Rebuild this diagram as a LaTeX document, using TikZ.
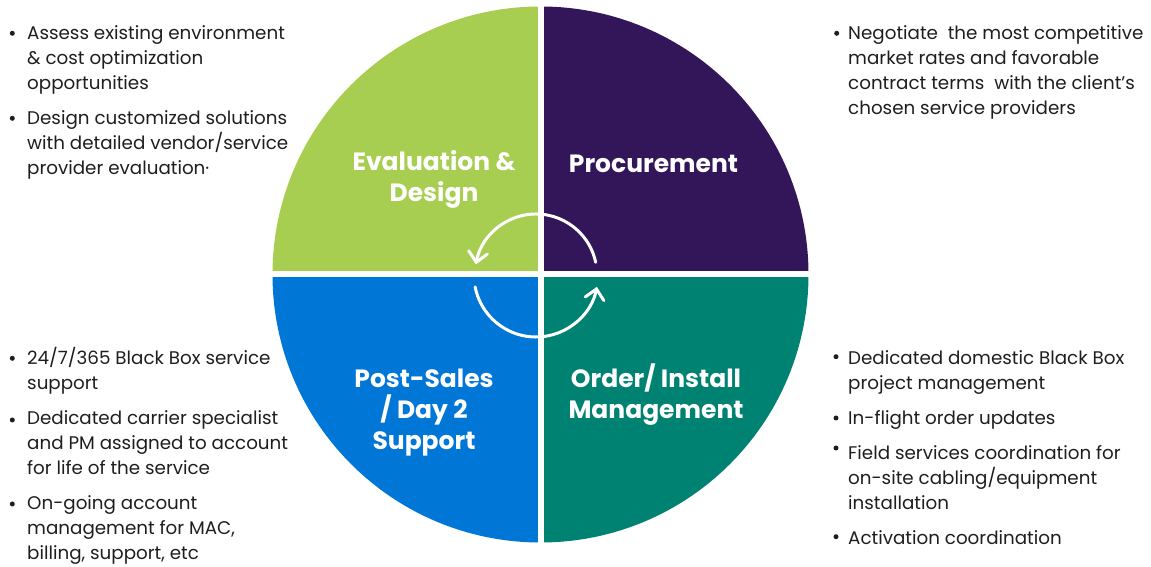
\documentclass[tikz,border=0pt]{standalone}
\usepackage{fontspec}
\setmainfont{Poppins}
\usetikzlibrary{arrows.meta}
\definecolor{qgreen}{RGB}{167,206,81}
\definecolor{qpurple}{RGB}{51,22,89}
\definecolor{qblue}{RGB}{0,118,215}
\definecolor{qteal}{RGB}{0,130,114}
\definecolor{txt}{RGB}{30,30,30}
\begin{document}
\begin{tikzpicture}[x=1pt,y=1pt,
  body/.style={anchor=base west, align=left, inner sep=0pt, text=txt, font=\fontsize{18.3}{25}\selectfont},
  head/.style={align=center, inner sep=0pt, text=white, font=\fontsize{25}{31}\selectfont\bfseries},
  bul/.style={circle, fill=txt, inner sep=0pt, minimum size=5pt},
  cyc/.style={white, line width=3pt, line cap=round, -{Straight Barb[length=10pt,width=19pt,line cap=round]}}]
\useasboundingbox (0,0) rectangle (1151,567);
% quadrants
\coordinate (c) at (540.5,292.5);
\fill[qgreen] (c) -- ++(-268,0) arc[start angle=180,end angle=90,radius=268] -- cycle;
\fill[qpurple] (c) -- ++(0,268) arc[start angle=90,end angle=0,radius=268] -- cycle;
\fill[qteal] (c) -- ++(268,0) arc[start angle=0,end angle=-90,radius=268] -- cycle;
\fill[qblue] (c) -- ++(0,-268) arc[start angle=270,end angle=180,radius=268] -- cycle;
\fill[white] (537.5,18) rectangle (543.5,566);
\fill[white] (266,289.5) rectangle (815,295.5);
% cycle arrows
\coordinate (ac) at (536,292);
\draw[cyc] (ac) ++(12:61) arc[start angle=12,end angle=170,radius=61];
\draw[cyc] (ac) ++(191:62) arc[start angle=191,end angle=349,radius=62];
% headings
\node[head] (h1) at (434,388) {Evaluation \&\\Design};
\node[head] (h2) at (653.5,403) {Procurement};
\node[head] (h3) at (424,154) {Post-Sales\\/ Day 2\\Support};
\node[head] (h4) at (656,172) {Order/ Install\\Management};
% top-left (base anchor = last line baseline)
\node[bul] (b1) at (12.3,533.7) {};
\node[body] (t1) at (27,477.5) {Assess existing environment\\\& cost optimization\\opportunities};
\node[bul] (b2) at (12.3,448.7) {};
\node[body] (t2) at (27,392.5) {Design customized solutions\\with detailed vendor/service\\provider evaluation·};
% top-right
\node[bul] (b3) at (836.7,533.7) {};
\node[body] (t3) at (848,452.5) {Negotiate\ \ the most competitive\\market rates and favorable\\contract terms\ \ with the client’s\\chosen service providers};
% bottom-left
\node[bul] (b4) at (12.3,208.7) {};
\node[body] (t4) at (27,177) {24/7/365 Black Box service\\support};
\node[bul] (b5) at (12.3,147) {};
\node[body] (t5) at (27,92) {Dedicated carrier specialist\\and PM assigned to account\\for life of the service};
\node[bul] (b6) at (12.3,63) {};
\node[body] (t6) at (27,7) {On-going account\\management for MAC,\\billing, support, etc};
% bottom-right
\node[bul] (b7) at (836,210.3) {};
\node[body] (t7) at (848,177) {Dedicated domestic Black Box\\project management};
\node[bul] (b8) at (836,149) {};
\node[body] (t8) at (848,142) {In-flight order updates};
\node[bul] (b9) at (836,119) {};
\node[body] (t9) at (848,57) {Field services coordination for\\on-site cabling/equipment\\installation};
\node[bul] (b10) at (836,30.3) {};
\node[body] (t10) at (848,22.5) {Activation coordination};
\end{tikzpicture}
\end{document}
